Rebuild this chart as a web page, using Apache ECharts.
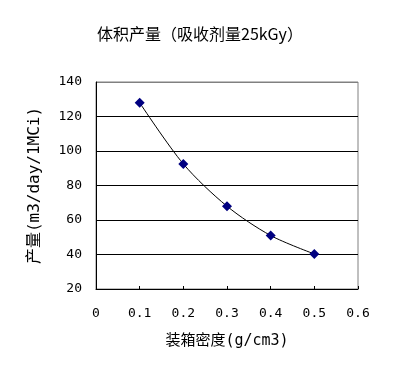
<!DOCTYPE html>
<html>
<head>
<meta charset="utf-8">
<script src="https://cdn.jsdelivr.net/npm/echarts@6/dist/echarts.min.js"></script>
<style>html,body{margin:0;padding:0;background:#fff}#c{width:406px;height:372px}</style>
</head>
<body>
<div id="c"></div>
<script>
const density = [0.1, 0.2, 0.3, 0.4, 0.5];
const output = [128, 92.5, 68, 51, 40.3];
const titleText = '体积产量（吸收剂量25kGy）';
const xName = '装箱密度(g/cm3)';
const yName = '产量(m3/day/1MCi)';

const chart = echarts.init(document.getElementById('c'));
const font = '"DejaVu Sans Mono", "Noto Sans CJK SC", monospace';
chart.setOption({
  animation: false,
  title: {
    text: titleText, left: 92, top: 21,
    textStyle: { fontFamily: '"Noto Sans CJK SC"', fontSize: 16, fontWeight: 'normal', color: '#000' }
  },
  grid: { left: 96, right: 48, top: 82, bottom: 83, show: true, borderColor: '#808080', borderWidth: 1 },
  xAxis: {
    type: 'value', min: 0, max: 0.6, interval: 0.1,
    name: xName, nameLocation: 'middle', nameGap: 45,
    nameTextStyle: { fontFamily: font, fontSize: 15, color: '#000' },
    axisLine: { show: true, lineStyle: { color: '#000', width: 1 } },
    axisTick: { show: true, inside: true, length: 3, lineStyle: { color: '#000' } },
    axisLabel: { fontFamily: font, fontSize: 13, color: '#000', margin: 18,
      formatter: v => v === 0 ? '0' : v.toFixed(1) },
    splitLine: { show: false }
  },
  yAxis: {
    type: 'value', min: 20, max: 140, interval: 20,
    name: yName, nameLocation: 'middle', nameGap: 53, nameRotate: 90,
    nameTextStyle: { fontFamily: font, fontSize: 16, color: '#000' },
    axisLine: { show: true, lineStyle: { color: '#000', width: 1 } },
    axisTick: { show: false },
    axisLabel: { fontFamily: font, fontSize: 13, color: '#000', margin: 14 },
    splitLine: { show: true, lineStyle: { color: ['#000','#000','#000','#000','#000','#000','#808080'], width: 1 } }
  },
  series: [{
    type: 'line',
    data: density.map((d, i) => [d, output[i]]),
    smooth: 0.3,
    symbol: 'diamond', symbolSize: 10,
    itemStyle: { color: '#000080' },
    lineStyle: { color: '#000', width: 1 }
  }]
});
</script>
</body>
</html>
